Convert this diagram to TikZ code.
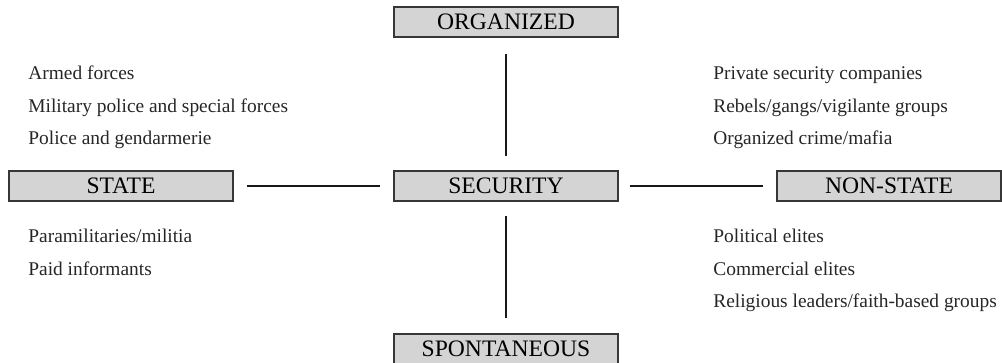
\documentclass[tikz,border=0pt]{standalone}
\usepackage{fontspec}
\setmainfont{Liberation Serif}
\definecolor{boxfill}{RGB}{212,212,212}
\definecolor{boxline}{RGB}{55,55,55}
\tikzset{
	sector/.style={draw=boxline, fill=boxfill, line width=0.6pt, minimum width=112pt, minimum height=15pt, inner sep=0pt, font=\fontsize{11.8}{13}\selectfont},
	actor/.style={anchor=base west, inner sep=0pt, font=\fontsize{9.7}{11}\selectfont, text=black!85},
	link/.style={line width=1.3pt, black!90},
}
\begin{document}
\begin{tikzpicture}[x=0.5pt, y=-0.5pt]
	\useasboundingbox (0,0) rectangle (1002,363);
	% the boxes
	\node[sector] (sec) at (506,186) {SECURITY};
	\node[sector] (org) at (506,22) {ORGANIZED};
	\node[sector] (spon) at (506,349) {SPONTANEOUS};
	\node[sector] (state) at (121,186) {STATE};
	\node[sector] (nonstate) at (889,186) {NON-STATE};
	% the lines
	\draw[link, shorten <=7pt, shorten >=8pt] (sec.north) -- (org.south);
	\draw[link, shorten <=7pt, shorten >=7.5pt] (sec.south) -- (spon.north);
	\draw[link, shorten <=6.5pt, shorten >=6.5pt] (state.east) -- (sec.west);
	\draw[link, shorten <=5.5pt, shorten >=6.5pt] (sec.east) -- (nonstate.west);
	% state actors
	\node[actor] (armed) at (28,80) {Armed forces};
	\node[actor] (milpol) at (28,113) {Military police and special forces};
	\node[actor] (police) at (28,145) {Police and gendarmerie};
	\node[actor] (para) at (28,243) {Paramilitaries/militia};
	\node[actor] (paid) at (28,276) {Paid informants};
	% non-state actors
	\node[actor] (private) at (713,80) {Private security companies};
	\node[actor] (rebels) at (713,113) {Rebels/gangs/vigilante groups};
	\node[actor] (crime) at (713,145) {Organized crime/mafia};
	\node[actor] (polit) at (713,243) {Political elites};
	\node[actor] (comm) at (713,276) {Commercial elites};
	\node[actor] (relig) at (713,308) {Religious leaders/faith-based groups};
\end{tikzpicture}
\end{document}
